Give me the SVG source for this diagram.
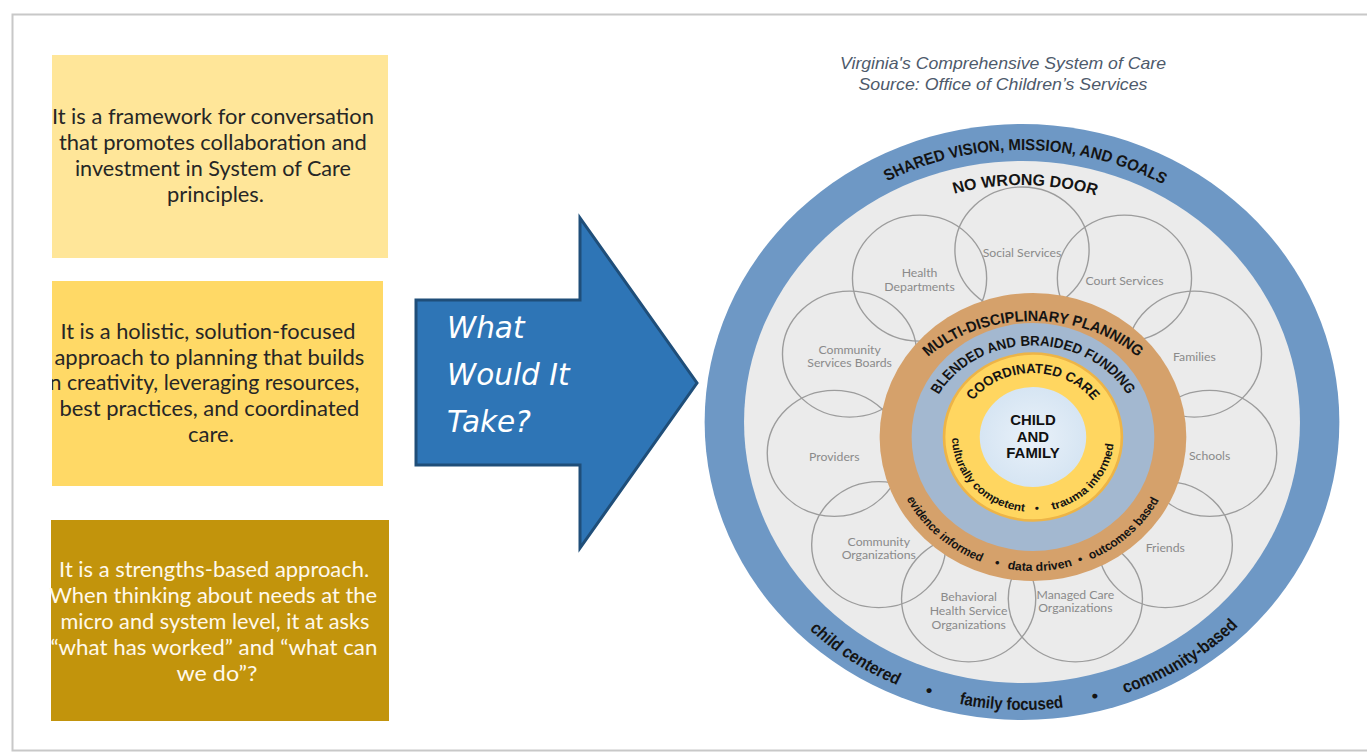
<svg xmlns="http://www.w3.org/2000/svg" width="1367" height="753" viewBox="0 0 1367 753">
  <defs>
    <style>
      .note { font-family: Lato, "Liberation Sans", sans-serif; font-size: 20.5px; text-anchor: middle; }
      .note-dark { fill: #262626; }
      .note-light { fill: #FFF9EC; }
      .title { font-family: "Liberation Sans", Arial, sans-serif; font-style: italic; font-size: 17px; fill: #4E5A6B; text-anchor: middle; }
      .ask { font-family: "DejaVu Sans", Verdana, sans-serif; font-style: italic; font-size: 29.5px; fill: #FFFFFF; }
      .ring { font-family: "Liberation Sans", Arial, sans-serif; font-weight: bold; fill: #141414; }
      .petal { fill: none; stroke: #9C9C9C; stroke-width: 1.3; }
      .agency { font-family: Lato, "Open Sans", sans-serif; font-size: 11.5px; fill: #8A8A8A; text-anchor: middle; }
      .core { font-family: "Liberation Sans", Arial, sans-serif; font-weight: bold; font-size: 14px; fill: #111; text-anchor: middle; }
    </style>
    <radialGradient id="coreFill" cx="0.5" cy="0.5" r="0.5">
      <stop offset="0" stop-color="#E9F1F9"/>
      <stop offset="1" stop-color="#D6E5F3"/>
    </radialGradient>
    <clipPath id="clipBox2"><rect x="52" y="281" width="331" height="205"/></clipPath>
    <!-- text arcs, in the local units of the wheel groups -->
    <path id="arcOuterTop" d="M -272 0 A 272 272 0 0 1 272 0"/>
    <path id="arcDoor" d="M -237 0 A 237 237 0 0 1 237 0"/>
    <path id="arcOuterBottom" d="M -288 0 A 288 288 0 0 0 288 0"/>
    <path id="arcMulti" d="M -136 0 A 136 116 0 0 1 136 0"/>
    <path id="arcBlend" d="M -100 0 A 100 91.5 0 0 1 100 0"/>
    <path id="arcCoord" d="M -68.4 0 A 68.4 64 0 0 1 68.4 0"/>
    <path id="arcYellowBottom" d="M -76 0 A 76 75 0 0 0 76 0"/>
    <path id="arcOrangeBottom" d="M -134 0 A 134 134 0 0 0 134 0"/>
  </defs>

  <!-- page -->
  <rect x="0" y="0" width="1367" height="753" fill="#FFFFFF"/>
  <rect x="12.5" y="14.5" width="1400" height="736" fill="#FFFFFF" stroke="#C8C8C8" stroke-width="2"/>

  <!-- left statements -->
  <g id="statement-framework">
    <rect x="52" y="55" width="336" height="203" fill="#FFE699"/>
    <text class="note note-dark">
      <tspan x="215.5" y="124" textLength="322" lengthAdjust="spacingAndGlyphs">It is a framework for conversation</tspan>
      <tspan x="215.5" y="150" textLength="308" lengthAdjust="spacingAndGlyphs">that promotes collaboration and</tspan>
      <tspan x="215.5" y="176" textLength="276" lengthAdjust="spacingAndGlyphs">investment in System of Care</tspan>
      <tspan x="215.5" y="202" textLength="97" lengthAdjust="spacingAndGlyphs">principles.</tspan>
    </text>
  </g>

  <g id="statement-holistic">
    <rect x="52" y="281" width="331" height="205" fill="#FFD966"/>
    <text class="note note-dark" clip-path="url(#clipBox2)">
      <tspan x="210.5" y="339" textLength="295" lengthAdjust="spacingAndGlyphs">It is a holistic, solution-focused</tspan>
      <tspan x="212" y="365" textLength="310" lengthAdjust="spacingAndGlyphs">approach to planning that builds</tspan>
      <tspan x="201" y="390" textLength="322" lengthAdjust="spacingAndGlyphs">on creativity, leveraging resources,</tspan>
      <tspan x="212" y="416" textLength="300" lengthAdjust="spacingAndGlyphs">best practices, and coordinated</tspan>
      <tspan x="211" y="442" textLength="46" lengthAdjust="spacingAndGlyphs">care.</tspan>
    </text>
  </g>

  <g id="statement-strengths">
    <rect x="51" y="520" width="338" height="201" fill="#C2940C"/>
    <text class="note note-light">
      <tspan x="216.7" y="577" textLength="310" lengthAdjust="spacingAndGlyphs">It is a strengths-based approach.</tspan>
      <tspan x="215.8" y="603" textLength="328" lengthAdjust="spacingAndGlyphs">When thinking about needs at the</tspan>
      <tspan x="217.5" y="629" textLength="309" lengthAdjust="spacingAndGlyphs">micro and system level, it at asks</tspan>
      <tspan x="216.5" y="655" textLength="327" lengthAdjust="spacingAndGlyphs">“what has worked” and “what can</tspan>
      <tspan x="217" y="681" textLength="81" lengthAdjust="spacingAndGlyphs">we do”?</tspan>
    </text>
  </g>

  <!-- block arrow -->
  <g id="connectors">
    <g id="arrow-what-would-it-take">
      <polygon points="416,300 580,300 580,218 697,383 580,548 580,465 416,465" fill="#2E75B6" stroke="#1F4E79" stroke-width="3" stroke-linejoin="miter"/>
      <text class="ask">
        <tspan x="447" y="338">What</tspan>
        <tspan x="447" y="385">Would It</tspan>
        <tspan x="447" y="432">Take?</tspan>
      </text>
    </g>
  </g>

  <!-- caption -->
  <g id="caption">
    <text class="title" x="1003" y="69" textLength="326" lengthAdjust="spacingAndGlyphs">Virginia's Comprehensive System of Care</text>
    <text class="title" x="1003" y="90" textLength="289" lengthAdjust="spacingAndGlyphs">Source: Office of Children’s Services</text>
  </g>

  <!-- system of care wheel -->
  <g id="wheel" transform="translate(1022 422) scale(1.065 1)">
    <g id="ring-shared-vision">
      <circle r="298" fill="#6E98C5"/>
      <circle r="261" fill="#EBEBEB"/>
      <text class="ring" font-size="16" text-anchor="middle"><textPath href="#arcOuterTop" startOffset="50.4%" textLength="270" lengthAdjust="spacingAndGlyphs">SHARED VISION, MISSION, AND GOALS</textPath></text>
      <text class="ring" font-size="17"><textPath href="#arcOuterBottom" startOffset="25.6%" textLength="100" lengthAdjust="spacingAndGlyphs">child centered</textPath></text>
      <text class="ring" font-size="17" text-anchor="middle"><textPath href="#arcOuterBottom" startOffset="40%">•</textPath></text>
      <text class="ring" font-size="17"><textPath href="#arcOuterBottom" startOffset="43.4%" textLength="99" lengthAdjust="spacingAndGlyphs">family focused</textPath></text>
      <text class="ring" font-size="17" text-anchor="middle"><textPath href="#arcOuterBottom" startOffset="57.8%">•</textPath></text>
      <text class="ring" font-size="17"><textPath href="#arcOuterBottom" startOffset="60.9%" textLength="127" lengthAdjust="spacingAndGlyphs">community-based</textPath></text>
    </g>

    <g id="ring-no-wrong-door">
      <text class="ring" font-size="16" text-anchor="middle"><textPath href="#arcDoor" startOffset="50.4%" textLength="135" lengthAdjust="spacingAndGlyphs">NO WRONG DOOR</textPath></text>
    </g>

    <g id="partner-social-services">
      <circle class="petal" cx="0" cy="-172" r="63"/>
      <text class="agency" x="0" y="-165">Social Services</text>
    </g>
    <g id="partner-court-services">
      <circle class="petal" cx="96.2" cy="-143.8" r="63"/>
      <text class="agency" x="96.2" y="-137">Court Services</text>
    </g>
    <g id="partner-families">
      <circle class="petal" cx="161.9" cy="-67.9" r="63"/>
      <text class="agency" x="161.9" y="-61">Families</text>
    </g>
    <g id="partner-schools">
      <circle class="petal" cx="176.2" cy="31.3" r="63"/>
      <text class="agency" x="176.2" y="38">Schools</text>
    </g>
    <g id="partner-friends">
      <circle class="petal" cx="134.5" cy="122.6" r="63"/>
      <text class="agency" x="134.5" y="130">Friends</text>
    </g>
    <g id="partner-managed-care">
      <circle class="petal" cx="50.1" cy="176.8" r="63"/>
      <text class="agency" x="50.1" y="177"><tspan x="50.1">Managed Care</tspan><tspan x="50.1" dy="13">Organizations</tspan></text>
    </g>
    <g id="partner-behavioral-health">
      <circle class="petal" cx="-50.1" cy="176.8" r="63"/>
      <text class="agency" x="-50.1" y="179"><tspan x="-50.1">Behavioral</tspan><tspan x="-50.1" dy="14">Health Service</tspan><tspan x="-50.1" dy="14">Organizations</tspan></text>
    </g>
    <g id="partner-community-organizations">
      <circle class="petal" cx="-134.5" cy="122.6" r="63"/>
      <text class="agency" x="-134.5" y="124"><tspan x="-134.5">Community</tspan><tspan x="-134.5" dy="13">Organizations</tspan></text>
    </g>
    <g id="partner-providers">
      <circle class="petal" cx="-176.2" cy="31.3" r="63"/>
      <text class="agency" x="-176.2" y="39">Providers</text>
    </g>
    <g id="partner-community-services-boards">
      <circle class="petal" cx="-161.9" cy="-67.9" r="63"/>
      <text class="agency" x="-161.9" y="-68"><tspan x="-161.9">Community</tspan><tspan x="-161.9" dy="13">Services Boards</tspan></text>
    </g>
    <g id="partner-health-departments">
      <circle class="petal" cx="-96.2" cy="-143.8" r="63"/>
      <text class="agency" x="-96.2" y="-145"><tspan x="-96.2">Health</tspan><tspan x="-96.2" dy="14">Departments</tspan></text>
    </g>

    <g id="inner-rings" transform="translate(10.3 15)">
      <g id="ring-multi-disciplinary">
        <circle r="144" fill="#D5A16B"/>
        <text class="ring" font-size="15" text-anchor="middle"><textPath href="#arcMulti" startOffset="50%" textLength="214" lengthAdjust="spacingAndGlyphs">MULTI-DISCIPLINARY PLANNING</textPath></text>
        <text class="ring" font-size="12"><textPath href="#arcOrangeBottom" startOffset="15.3%" textLength="96" lengthAdjust="spacingAndGlyphs">evidence informed</textPath></text>
        <text class="ring" font-size="12" text-anchor="middle"><textPath href="#arcOrangeBottom" startOffset="41.7%">•</textPath></text>
        <text class="ring" font-size="12"><textPath href="#arcOrangeBottom" startOffset="44.2%" textLength="62" lengthAdjust="spacingAndGlyphs">data driven</textPath></text>
        <text class="ring" font-size="12" text-anchor="middle"><textPath href="#arcOrangeBottom" startOffset="61.1%">•</textPath></text>
        <text class="ring" font-size="12"><textPath href="#arcOrangeBottom" startOffset="63.3%" textLength="89" lengthAdjust="spacingAndGlyphs">outcomes based</textPath></text>
      </g>
      <g id="ring-blended-funding">
        <circle r="114" fill="#A3B8D0"/>
        <text class="ring" font-size="14" text-anchor="middle"><textPath href="#arcBlend" startOffset="50%" textLength="212" lengthAdjust="spacingAndGlyphs">BLENDED AND BRAIDED FUNDING</textPath></text>
      </g>
      <g id="ring-coordinated-care">
        <circle r="83.5" fill="#FFD660" stroke="#EDB447" stroke-width="2.5"/>
        <text class="ring" font-size="13.5" text-anchor="middle"><textPath href="#arcCoord" startOffset="50%" textLength="130" lengthAdjust="spacingAndGlyphs">COORDINATED CARE</textPath></text>
        <text class="ring" font-size="11"><textPath href="#arcYellowBottom" startOffset="0.5%" textLength="109" lengthAdjust="spacingAndGlyphs">culturally competent</textPath></text>
        <text class="ring" font-size="11" text-anchor="middle"><textPath href="#arcYellowBottom" startOffset="51.7%">•</textPath></text>
        <text class="ring" font-size="11"><textPath href="#arcYellowBottom" startOffset="57.8%" textLength="93" lengthAdjust="spacingAndGlyphs">trauma informed</textPath></text>
      </g>
      <g id="child-and-family">
        <circle r="50" fill="url(#coreFill)"/>
        <text class="core"><tspan x="0" y="-12">CHILD</tspan><tspan x="0" y="5">AND</tspan><tspan x="0" y="21">FAMILY</tspan></text>
      </g>
    </g>
  </g>
</svg>
